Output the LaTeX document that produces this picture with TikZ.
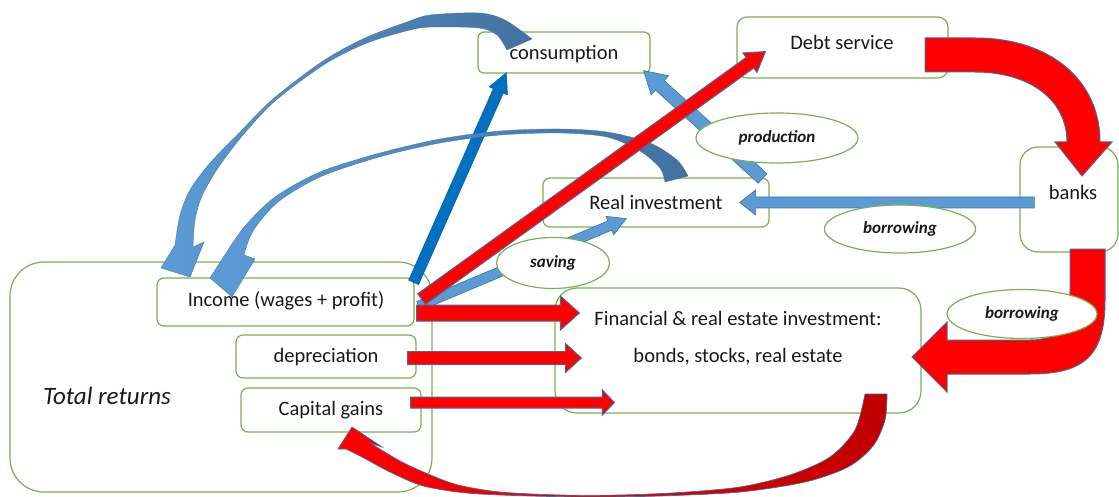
\documentclass[tikz,border=0pt]{standalone}
\usepackage{fontspec}
\setmainfont{Carlito}
\usetikzlibrary{calc,shapes.geometric}
\definecolor{boxgreen}{RGB}{119,178,80}
\definecolor{lblue}{RGB}{91,155,213}
\definecolor{steel}{RGB}{65,113,156}
\definecolor{arcdark}{RGB}{66,113,160}
\definecolor{dblue}{RGB}{0,112,192}
\definecolor{outl}{RGB}{72,104,150}
\definecolor{dred}{RGB}{192,0,0}
\definecolor{txt}{RGB}{25,25,25}
\newcommand\blockarr[6]{%
  \coordinate (bah) at ($(#3)!#6!(#2)$);
  \path[#1] ($(#2)!#4!90:(#3)$) -- ($(bah)!#4!90:(#3)$) -- ($(bah)!#5!90:(#3)$) -- (#3)
    -- ($(bah)!#5!-90:(#3)$) -- ($(bah)!#4!-90:(#3)$) -- ($(#2)!#4!-90:(#3)$) -- cycle;}
\begin{document}
\begin{tikzpicture}[x=1pt,y=-1pt,
  box/.style={draw=boxgreen, line width=1.2pt, rounded corners=7pt, fill=white, inner sep=0pt},
  oval/.style={ellipse, draw=boxgreen, line width=1.2pt, fill=white, inner sep=0pt,
    text=txt, font=\fontsize{17}{20}\selectfont\bfseries\itshape},
  lbl/.style={text=txt, inner sep=0pt, font=\fontsize{20.5}{24}\selectfont},
  redarr/.style={fill=red, draw=outl, line width=1pt, line join=miter},
  lbarr/.style={fill=lblue, draw=steel, line width=0.6pt},
  dbarr/.style={fill=dblue, draw=dblue!80!black, line width=0.4pt},
  arcsty/.style={left color=lblue, right color=arcdark, draw=steel, line width=0.3pt},
  darcsty/.style={left color=red, middle color=red, right color=dred, draw=outl, line width=0.7pt}]
\useasboundingbox (0,0) rectangle (1119,497);
% boxes
\node[box, rounded corners=34pt, minimum width=422pt, minimum height=230pt] (tot) at (221,377) {};
\node[box, minimum width=257pt, minimum height=48pt] (inc) at (285.5,302) {};
\node[box, minimum width=180pt, minimum height=43pt] (dep) at (326,356.5) {};
\node[box, minimum width=180pt, minimum height=44pt] (cap) at (331,410) {};
\node[box, rounded corners=6pt, minimum width=172pt, minimum height=41pt] (con) at (564,52.5) {};
\node[box, rounded corners=10pt, minimum width=211pt, minimum height=61pt] (debt) at (842.5,47.5) {};
\node[box, minimum width=226pt, minimum height=49pt] (ri) at (656,202.5) {};
\node[box, rounded corners=18pt, minimum width=98pt, minimum height=105pt] (bank) at (1069,199.5) {};
\node[box, rounded corners=22pt, minimum width=366pt, minimum height=125pt] (fin) at (738,350.5) {};
% connector end points
\coordinate (a1s) at ($(inc.north east)+(-1,5)$);
\coordinate (a1e) at ($(con.south west)+(29,-1)$);
\coordinate (a2s) at ($(inc.east)+(7,-3)$);
\coordinate (a2e) at ($(debt.south west)+(29,-27)$);
\coordinate (a3s) at ($(inc.east)+(4,4)$);
\coordinate (a3e) at ($(ri.south west)+(84,-9)$);
\coordinate (a4s) at ($(inc.east)+(2,11)$);
\coordinate (a4e) at ($(fin.west)+(25,-37.5)$);
\coordinate (a5s) at ($(dep.east)+(-9,1.5)$);
\coordinate (a5e) at ($(fin.west)+(27,7.5)$);
\coordinate (a6s) at ($(cap.east)+(-11,-7.5)$);
\coordinate (a6e) at ($(fin.west)+(60,52)$);
\coordinate (a7s) at ($(ri.north east)+(-7,1)$);
\coordinate (a7e) at ($(con.south east)+(-7,-3)$);
\coordinate (a8s) at ($(bank.west)+(15,3)$);
\coordinate (a8e) at ($(ri.east)+(-30,0)$);
% straight blue arrows
\blockarr{lbarr}{a7s}{a7e}{6.5pt}{13pt}{22pt}
\blockarr{lbarr}{a3s}{a3e}{5pt}{10pt}{18pt}
\blockarr{dbarr}{a1s}{a1e}{5.5pt}{10pt}{20pt}
\blockarr{lbarr}{a8s}{a8e}{5.5pt}{12.5pt}{16pt}
% curved blue arrows to income
\path[arcsty] plot[smooth] coordinates {(532,39) (505,20) (479,13) (430,15) (407,22) (365,38) (323,61) (273,99) (240,132) (210,163) (190,190) (180,215) (175,245)}
  -- (161,268) -- (190,277) -- (204,242) -- (193,247)
  -- plot[smooth] coordinates {(193,247) (195,220) (202,196) (218,168) (243,135) (275,101) (325,64) (367,43) (410,30) (432,27) (479,28) (497,35) (507,50)} -- cycle;
\path[arcsty] plot[smooth] coordinates {(688,176) (677,160) (650,143) (607,132) (560,129) (500,131) (440,139) (380,153) (320,172) (275,197) (245,226) (228,250)}
  -- (210,278) -- (232,297) -- (255,259) -- (244,255)
  -- plot[smooth] coordinates {(244,255) (253,231) (278,202) (320,177) (379,157) (440,143) (500,135) (560,133) (607,137) (640,151) (660,168) (665,182)} -- cycle;
% red arrows
\blockarr{redarr}{a4s}{a4e}{8pt}{17pt}{19pt}
\blockarr{redarr}{a5s}{a5e}{6.5pt}{14.5pt}{16pt}
\blockarr{redarr}{a6s}{a6e}{5.5pt}{12.5pt}{12pt}
\blockarr{redarr}{a2s}{a2e}{6.5pt}{12pt}{19pt}
\path[redarr] (925,38) -- (975,38) .. controls (1050,38) and (1100,80) .. (1100,142) -- (1112,142) -- (1082,176) -- (1055,142) -- (1067,142) .. controls (1067,100) and (1030,72) .. (975,72) -- (925,72) -- cycle;
\path[redarr] (1070,249) -- (1105,249) -- (1105,300) .. controls (1105,355) and (1085,374) .. (1030,374) -- (947,374) -- (947,392) -- (912,357) -- (947,322) -- (947,340) -- (1030,340) .. controls (1060,340) and (1070,325) .. (1070,290) -- cycle;
\path[darcsty] plot[smooth] coordinates {(887,394) (885,420) (873,446) (848,467) (805,482) (740,492) (660,496) (590,497) (530,496) (480,494) (450,491) (420,485) (390,472) (362,457) (346,449)}
  -- (338,449) -- (352,427) -- (382,447) -- (370,443)
  -- plot[smooth] coordinates {(370,443) (400,461) (428,474) (458,485) (500,492) (560,495) (620,495) (680,492.5) (740,487) (790,475) (830,457) (855,430) (865,394)} -- cycle;
% ellipses
\node[oval, minimum width=162pt, minimum height=50pt] (prod) at (777,138) {production};
\node[oval, minimum width=113pt, minimum height=51pt] (sav) at (553,263) {saving};
\node[oval, minimum width=151pt, minimum height=48pt] (bor1) at (900,229) {borrowing};
\node[oval, minimum width=150pt, minimum height=49pt] (bor2) at (1022,314) {borrowing};
% box texts
\node[lbl] (conL) at (564,54) {consumption};
\node[lbl] (debtL) at (842,42) {Debt service};
\node[lbl] (riL) at (656,202) {Real investment};
\node[lbl] (bankL) at (1073,192) {banks};
\node[lbl] (finL1) at (738,318) {Financial \& real estate investment:};
\node[lbl] (finL2) at (738,357) {bonds, stocks, real estate};
\node[lbl] (incL) at (286,301) {Income (wages + profit)};
\node[lbl] (depL) at (326,357) {depreciation};
\node[lbl] (capL) at (331,410) {Capital gains};
\node[lbl, font=\fontsize{25}{30}\selectfont\itshape] (totL) at (107,396) {Total returns};
\end{tikzpicture}
\end{document}
